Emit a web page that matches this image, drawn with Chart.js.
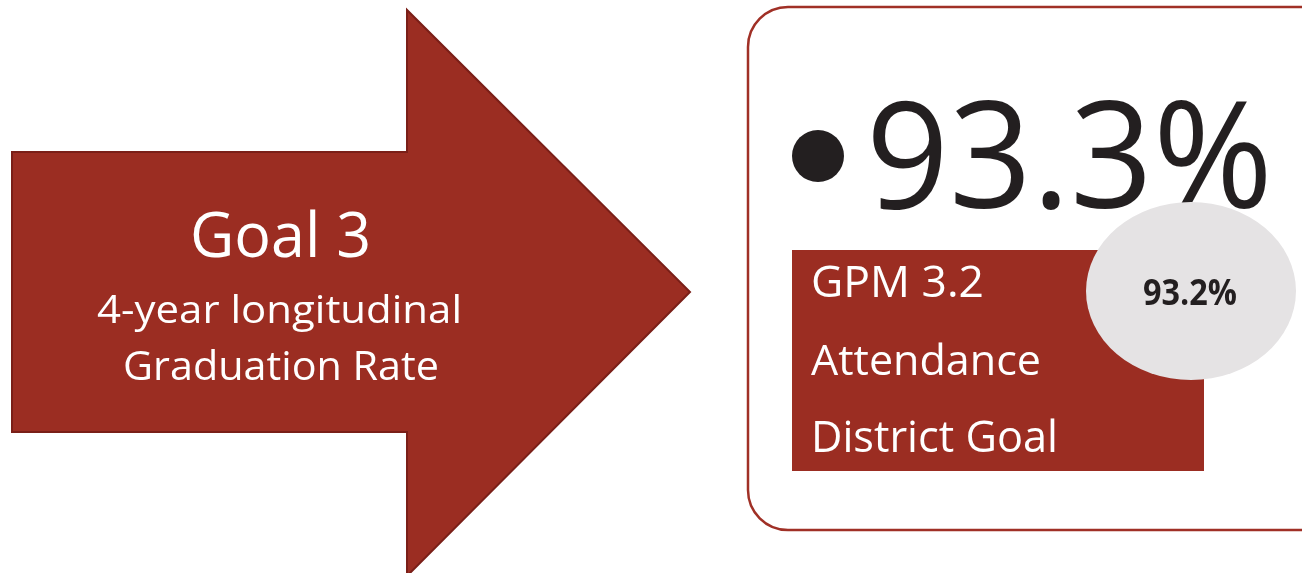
<!DOCTYPE html>
<html>
<head>
<meta charset="utf-8">
<script src="https://cdn.jsdelivr.net/npm/chart.js@4"></script>
<style>
  html, body { margin: 0; padding: 0; background: #fff; }
  canvas { display: block; }
</style>
</head>
<body>
<canvas id="goal3" width="1302" height="573"></canvas>
<script>
// Goal 3 card

var goalLines = ['Goal 3', '4-year longitudinal', 'Graduation Rate'];
var measureLines = ['GPM 3.2', 'Attendance', 'District Goal'];
var graduationRate = [93.3];
var attendanceRate = [93.2];

var red = 'rgb(155, 45, 34)';
var redEdge = 'rgb(122, 31, 24)';
var ink = 'rgb(35, 31, 32)';

// draw text with a given cap height, squeezed to fit left..right
function fitText(ctx, text, left, right, base, cap, weight, color) {
  var size = cap / 0.714;
  ctx.font = weight + ' ' + size + 'px "Open Sans"';
  var w = ctx.measureText(text).width;
  ctx.save();
  ctx.translate(left, base);
  ctx.scale((right - left) / w, 1);
  ctx.fillStyle = color;
  ctx.textBaseline = 'alphabetic';
  ctx.textAlign = 'left';
  ctx.fillText(text, 0, 0);
  ctx.restore();
}

var cardPlugin = {
  id: 'card',
  beforeDatasetsDraw: function (chart) {
    var ctx = chart.ctx;
    var X = function (v) { return chart.scales.x.getPixelForValue(v); };
    var Y = function (v) { return chart.scales.y.getPixelForValue(v); };

    // arrow
    ctx.save();
    ctx.beginPath();
    ctx.moveTo(X(12), Y(152));
    ctx.lineTo(X(407), Y(152));
    ctx.lineTo(X(407), Y(10));
    ctx.lineTo(X(690), Y(292));
    ctx.lineTo(X(407), Y(576));
    ctx.lineTo(X(407), Y(432));
    ctx.lineTo(X(12), Y(432));
    ctx.closePath();
    ctx.fillStyle = red;
    ctx.fill();
    ctx.lineWidth = 2;
    ctx.strokeStyle = redEdge;
    ctx.stroke();
    ctx.restore();

    fitText(ctx, goalLines[0], X(190), X(371), Y(257), 44, '500', '#fff');
    fitText(ctx, goalLines[1], X(97), X(462), Y(323), 28, '500', '#fff');
    fitText(ctx, goalLines[2], X(123), X(439), Y(380), 29, '500', '#fff');

    // rounded frame
    ctx.save();
    ctx.beginPath();
    ctx.roundRect(X(748), Y(7), X(1340) - X(748), Y(530) - Y(7), 40);
    ctx.lineWidth = 2.5;
    ctx.strokeStyle = 'rgb(160, 48, 38)';
    ctx.stroke();
    ctx.restore();

    // big number with bullet
    ctx.save();
    ctx.beginPath();
    ctx.arc(X(818), Y(156), 26, 0, Math.PI * 2);
    ctx.fillStyle = ink;
    ctx.fill();
    ctx.restore();
    fitText(ctx, graduationRate[0].toFixed(1) + '%', X(866), X(1273), Y(208), 106, '500', ink);

    // measure box
    ctx.save();
    ctx.fillStyle = red;
    ctx.fillRect(X(792), Y(250), X(1204) - X(792), Y(471) - Y(250));
    ctx.restore();
    fitText(ctx, measureLines[0], X(811), X(984), Y(297), 31, '500', '#fff');
    fitText(ctx, measureLines[1], X(811), X(1041), Y(375), 30, '500', '#fff');
    fitText(ctx, measureLines[2], X(811), X(1058), Y(452), 31, '500', '#fff');

    // attendance bubble
    ctx.save();
    ctx.beginPath();
    ctx.ellipse(X(1191), Y(291), 105, 89, 0, 0, Math.PI * 2);
    ctx.fillStyle = 'rgb(229, 227, 228)';
    ctx.fill();
    ctx.restore();
    fitText(ctx, attendanceRate[0].toFixed(1) + '%', X(1143), X(1237), Y(305), 25, '700', ink);
  }
};

var ctx = document.getElementById('goal3').getContext('2d');
var chart = new Chart(ctx, {
    type: 'scatter',
    data: {
        datasets: [{
            label: 'Attendance',
            data: [],
            pointRadius: 0
        }]
    },
    options: {
        responsive: false,
        animation: false,
        layout: { padding: 0 },
        scales: {
            x: { type: 'linear', min: 0, max: 1302, display: false },
            y: { type: 'linear', min: 0, max: 573, reverse: true, display: false }
        },
        plugins: {
            legend: { display: false },
            tooltip: { enabled: false }
        }
    },
    plugins: [cardPlugin]
});
</script>
</body>
</html>
